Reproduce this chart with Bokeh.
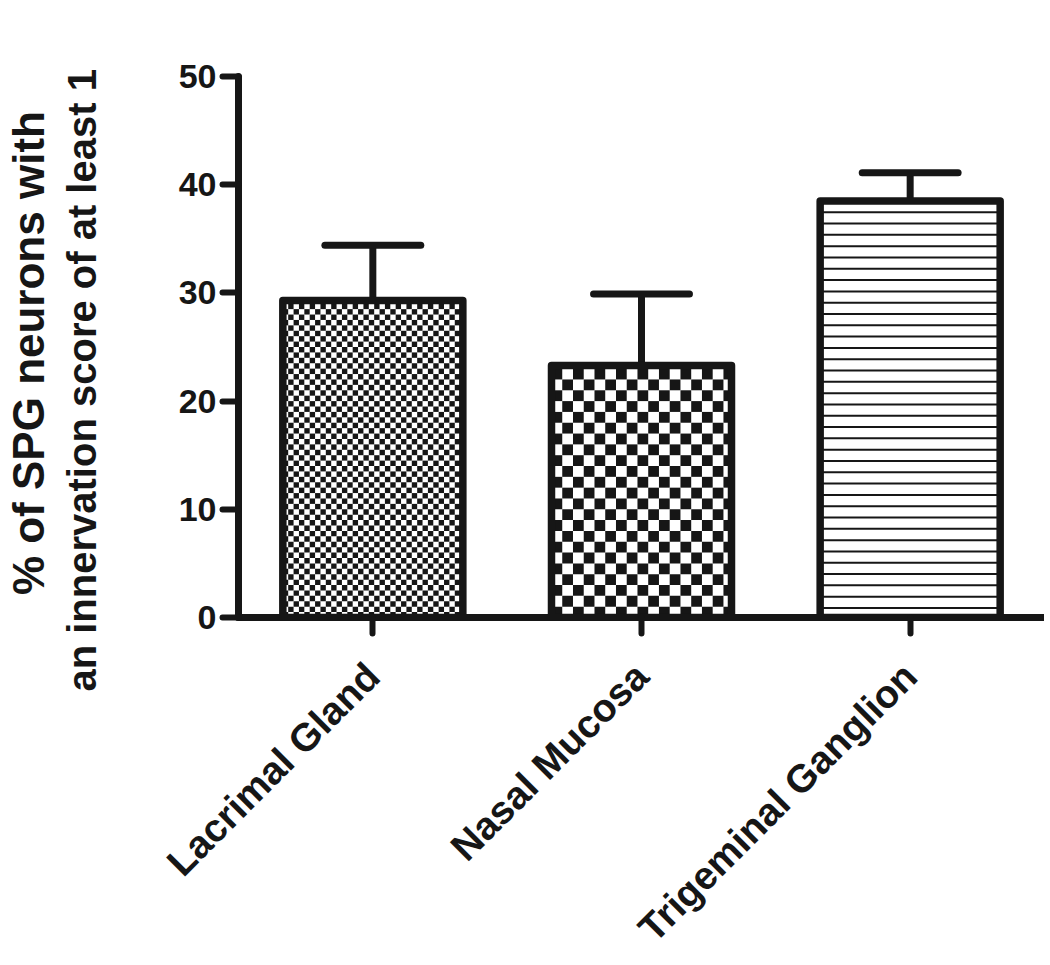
import numpy as np
from bokeh.plotting import figure
from bokeh.models import FixedTicker, Range1d, LinearAxis
from bokeh.embed import file_html
from bokeh.resources import INLINE

# ---- data ----
categories = ["Lacrimal Gland", "Nasal Mucosa", "Trigeminal Ganglion"]
means = [29.3, 23.3, 38.5]
sem = [5.1, 6.6, 2.6]
y_ticks = [0, 10, 20, 30, 40, 50]
y_title = ["% of SPG neurons with", "an innervation score of at least 1"]

INK = "#161616"
FONT = "Liberation Sans"
NBSP = "\u00a0"
xs = [1, 2, 3]
bar_w = 0.67
cap_w = 0.357

p = figure(frame_width=806, frame_height=541,
           x_range=Range1d(0.5, 3.5), y_range=Range1d(0, 50),
           output_backend="svg", toolbar_location=None,
           min_border_left=236, min_border_right=0,
           min_border_top=76, min_border_bottom=0)
p.outline_line_color = None
p.grid.visible = False
p.background_fill_color = "white"


def checker(xc, top, cw, ch):
    left, right = xc - bar_w / 2, xc + bar_w / 2
    L, R, B, T = [], [], [], []
    nx = int(np.ceil(bar_w / cw))
    ny = int(np.ceil(top / ch))
    for j in range(ny):
        for i in range(nx):
            if (i + j) % 2 == 0:
                l = left + i * cw
                r = min(l + cw, right)
                b = j * ch
                t = min(b + ch, top)
                L.append(l); R.append(r); B.append(b); T.append(t)
    return L, R, B, T


# fine checker for bar 1, coarse checker for bar 2
L, R, B, T = checker(xs[0], means[0], 0.0200, 0.50)
p.quad(left=L, right=R, bottom=B, top=T, fill_color=INK, line_color=None)
L, R, B, T = checker(xs[1], means[1], 0.0400, 1.00)
p.quad(left=L, right=R, bottom=B, top=T, fill_color=INK, line_color=None)

# horizontal lines for bar 3
spacing = 1.045
ys = []
y = means[2] - spacing
while y > 0.3:
    ys.append(y)
    y -= spacing
p.segment(x0=[xs[2] - bar_w / 2] * len(ys), x1=[xs[2] + bar_w / 2] * len(ys),
          y0=ys, y1=ys, line_color=INK, line_width=2)

# error bars (upper only)
upper = [m + s for m, s in zip(means, sem)]
p.segment(x0=xs, x1=xs, y0=means, y1=upper, line_color=INK, line_width=7)
p.segment(x0=[x - cap_w / 2 for x in xs], x1=[x + cap_w / 2 for x in xs],
          y0=upper, y1=upper, line_color=INK, line_width=7, line_cap="round")

# bar outlines
p.vbar(x=xs, top=means, bottom=0, width=bar_w, fill_color=None,
       line_color=INK, line_width=7.5, line_join="round")

# axes
for ax in (p.xaxis[0], p.yaxis[0]):
    ax.axis_line_color = INK
    ax.axis_line_width = 7
    ax.axis_line_cap = "round"
    ax.major_tick_line_color = INK
    ax.major_tick_line_width = 6
    ax.major_tick_line_cap = "round"
    ax.major_tick_in = 0
    ax.major_tick_out = 16
    ax.minor_tick_line_color = None
    ax.major_label_text_color = INK
    ax.major_label_text_font = FONT
    ax.major_label_text_font_style = "bold"

p.yaxis.ticker = FixedTicker(ticks=y_ticks)
p.yaxis.major_label_text_font_size = "34px"
p.yaxis.major_label_standoff = 6
# inner title line (trailing no-break spaces nudge it downwards, as in the reference)
p.yaxis.axis_label = y_title[1] + NBSP * 6
p.yaxis.axis_label_text_font = FONT
p.yaxis.axis_label_text_font_style = "bold"
p.yaxis.axis_label_text_font_size = "40px"
p.yaxis.axis_label_text_color = INK
p.yaxis.axis_label_standoff = 72

# outer (title-only) axis carrying the first title line
title_axis = LinearAxis(ticker=FixedTicker(ticks=[]), axis_label=y_title[0] + NBSP)
title_axis.axis_line_color = None
title_axis.major_tick_line_color = None
title_axis.minor_tick_line_color = None
title_axis.major_tick_out = 0
title_axis.major_tick_in = 0
title_axis.minor_tick_out = 0
title_axis.major_label_standoff = 0
title_axis.major_label_text_font_size = "0px"
title_axis.axis_label_standoff = 4
title_axis.axis_label_text_font = FONT
title_axis.axis_label_text_font_style = "bold"
title_axis.axis_label_text_font_size = "44px"
title_axis.axis_label_text_color = INK
p.add_layout(title_axis, "left")

p.xaxis.ticker = FixedTicker(ticks=xs)
p.xaxis.major_label_overrides = {x: c for x, c in zip(xs, categories)}
p.xaxis.major_label_orientation = np.pi / 4
p.xaxis.major_label_text_font_size = "39px"
p.xaxis.major_label_standoff = 36

open("out.html", "w").write(file_html(p, INLINE))
